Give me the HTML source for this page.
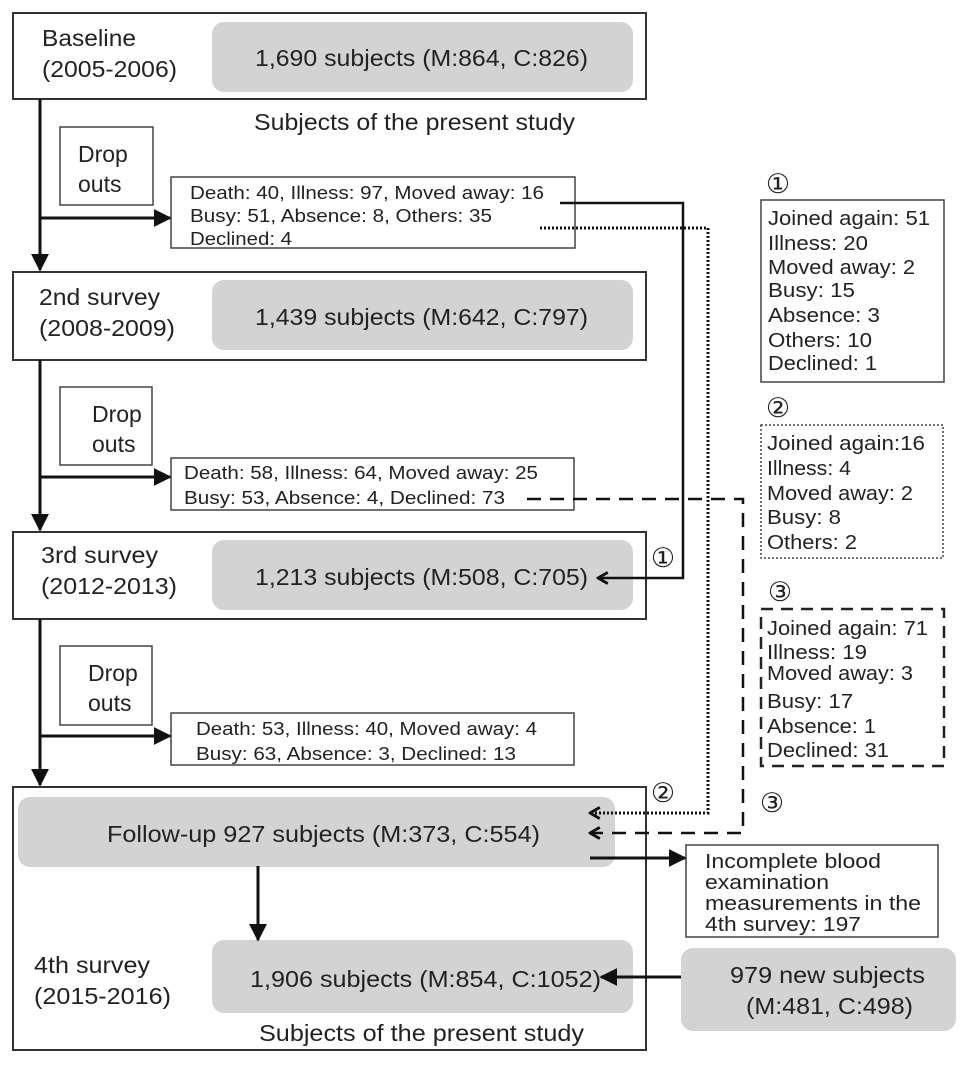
<!DOCTYPE html>
<html><head><meta charset="utf-8"><style>
html,body{margin:0;padding:0;background:#fff;}
svg{display:block;font-family:"Liberation Sans",sans-serif;fill:#222;}
</style></head><body>
<svg width="969" height="1066" viewBox="0 0 969 1066" xmlns="http://www.w3.org/2000/svg">
<defs>
<marker id="big" viewBox="0 0 10 10" refX="9" refY="5" markerWidth="18" markerHeight="18" orient="auto" markerUnits="userSpaceOnUse"><path d="M0,0 L10,5 L0,10 z" fill="#111"/></marker>
<marker id="op" viewBox="0 0 10 10" refX="9" refY="5" markerWidth="14" markerHeight="14" orient="auto" markerUnits="userSpaceOnUse"><path d="M2,1 L9,5 L2,9" fill="none" stroke="#111" stroke-width="2"/></marker>
</defs>
<g fill="none" stroke="#333" stroke-width="2">
<rect x="13" y="13" width="633" height="86"/>
<rect x="13" y="272" width="633" height="88"/>
<rect x="13" y="532" width="633" height="87"/>
<rect x="13" y="787" width="633" height="263"/>
</g>
<g fill="#d3d3d3">
<rect x="212" y="22" width="421" height="70" rx="12"/>
<rect x="212" y="280" width="421" height="70" rx="12"/>
<rect x="212" y="540" width="421" height="70" rx="12"/>
<rect x="18" y="797" width="597" height="70" rx="12"/>
<rect x="212" y="940" width="421" height="73" rx="12"/>
<rect x="681" y="948" width="275" height="83" rx="12"/>
</g>
<g fill="#fff" stroke="#444" stroke-width="1.5">
<rect x="60" y="127" width="93" height="78"/>
<rect x="60" y="387" width="92" height="78"/>
<rect x="60" y="646" width="92" height="79"/>
<rect x="171" y="177" width="404" height="71"/>
<rect x="171" y="458" width="403" height="52"/>
<rect x="171" y="713" width="403" height="52"/>
<rect x="686" y="845" width="252" height="92"/>
<rect x="761" y="200" width="183" height="182"/>
<rect x="761" y="425" width="182" height="133" stroke-dasharray="2,2"/>
<rect x="761" y="609" width="183" height="157" stroke="#222" stroke-width="2.5" stroke-dasharray="12,8"/>
</g>
<g stroke="#111" stroke-width="3" fill="none">
<line x1="40" y1="99" x2="40" y2="270" marker-end="url(#big)"/>
<line x1="40" y1="360" x2="40" y2="530" marker-end="url(#big)"/>
<line x1="40" y1="619" x2="40" y2="785" marker-end="url(#big)"/>
<line x1="40" y1="218" x2="170" y2="218" marker-end="url(#big)"/>
<line x1="40" y1="477" x2="170" y2="477" marker-end="url(#big)"/>
<line x1="40" y1="736" x2="170" y2="736" marker-end="url(#big)"/>
<line x1="258" y1="866" x2="258" y2="940" marker-end="url(#big)"/>
<line x1="590" y1="858" x2="685" y2="858" marker-end="url(#big)"/>
<line x1="681" y1="977" x2="601" y2="977" marker-end="url(#big)"/>
</g>
<polyline points="560,203 683,203 683,578 598,578" fill="none" stroke="#111" stroke-width="2.5" marker-end="url(#op)"/>
<polyline points="540,228 708,228 708,813 590,813" fill="none" stroke="#111" stroke-width="3" stroke-dasharray="2,2" marker-end="url(#op)"/>
<polyline points="527,499 743,499 743,833 590,833" fill="none" stroke="#111" stroke-width="2.5" stroke-dasharray="14,9" marker-end="url(#op)"/>
<g font-size="23" lengthAdjust="spacingAndGlyphs">
<text x="42" y="46" textLength="94" lengthAdjust="spacingAndGlyphs">Baseline</text><text x="42" y="77" textLength="135" lengthAdjust="spacingAndGlyphs">(2005-2006)</text>
<text x="39" y="305" textLength="121" lengthAdjust="spacingAndGlyphs">2nd survey</text><text x="39" y="336" textLength="136" lengthAdjust="spacingAndGlyphs">(2008-2009)</text>
<text x="41" y="563" textLength="117" lengthAdjust="spacingAndGlyphs">3rd survey</text><text x="41" y="594" textLength="136" lengthAdjust="spacingAndGlyphs">(2012-2013)</text>
<text x="34" y="973" textLength="116" lengthAdjust="spacingAndGlyphs">4th survey</text><text x="34" y="1004" textLength="137" lengthAdjust="spacingAndGlyphs">(2015-2016)</text>
<text x="255" y="66" textLength="333" lengthAdjust="spacingAndGlyphs">1,690 subjects (M:864, C:826)</text>
<text x="255" y="325" textLength="333" lengthAdjust="spacingAndGlyphs">1,439 subjects (M:642, C:797)</text>
<text x="255" y="585" textLength="333" lengthAdjust="spacingAndGlyphs">1,213 subjects (M:508, C:705)</text>
<text x="107" y="842" textLength="433" lengthAdjust="spacingAndGlyphs">Follow-up 927 subjects (M:373, C:554)</text>
<text x="250" y="987" textLength="351" lengthAdjust="spacingAndGlyphs">1,906 subjects (M:854, C:1052)</text>
<text x="254" y="130" textLength="321" lengthAdjust="spacingAndGlyphs">Subjects of the present study</text>
<text x="259" y="1041" textLength="325" lengthAdjust="spacingAndGlyphs">Subjects of the present study</text>
<text x="730" y="983" textLength="195" lengthAdjust="spacingAndGlyphs">979 new subjects</text>
<text x="746" y="1014" textLength="167" lengthAdjust="spacingAndGlyphs">(M:481, C:498)</text>
<text x="78" y="162">Drop</text><text x="78" y="192">outs</text>
<text x="92" y="422">Drop</text><text x="92" y="452">outs</text>
<text x="88" y="681">Drop</text><text x="88" y="711">outs</text>
</g>
<g font-size="18">
<text x="190" y="199" textLength="354" lengthAdjust="spacingAndGlyphs">Death: 40, Illness: 97, Moved away: 16</text>
<text x="190" y="222" textLength="302" lengthAdjust="spacingAndGlyphs">Busy: 51, Absence: 8, Others: 35</text>
<text x="190" y="245" textLength="102" lengthAdjust="spacingAndGlyphs">Declined: 4</text>
<text x="184" y="479" textLength="354" lengthAdjust="spacingAndGlyphs">Death: 58, Illness: 64, Moved away: 25</text>
<text x="184" y="504" textLength="321" lengthAdjust="spacingAndGlyphs">Busy: 53, Absence: 4, Declined: 73</text>
<text x="196" y="735" textLength="341" lengthAdjust="spacingAndGlyphs">Death: 53, Illness: 40, Moved away: 4</text>
<text x="196" y="760" textLength="320" lengthAdjust="spacingAndGlyphs">Busy: 63, Absence: 3, Declined: 13</text>
</g>
<g font-size="20">
<text x="705" y="868" textLength="176" lengthAdjust="spacingAndGlyphs">Incomplete blood</text>
<text x="705" y="889" textLength="124" lengthAdjust="spacingAndGlyphs">examination</text>
<text x="705" y="910" textLength="216" lengthAdjust="spacingAndGlyphs">measurements in the</text>
<text x="705" y="931" textLength="156" lengthAdjust="spacingAndGlyphs">4th survey: 197</text>
<text x="768" y="225" textLength="162" lengthAdjust="spacingAndGlyphs">Joined again: 51</text><text x="768" y="250" textLength="100" lengthAdjust="spacingAndGlyphs">Illness: 20</text><text x="768" y="274" textLength="147" lengthAdjust="spacingAndGlyphs">Moved away: 2</text><text x="768" y="297" textLength="87" lengthAdjust="spacingAndGlyphs">Busy: 15</text><text x="768" y="322" textLength="112" lengthAdjust="spacingAndGlyphs">Absence: 3</text><text x="768" y="347" textLength="104" lengthAdjust="spacingAndGlyphs">Others: 10</text><text x="768" y="370" textLength="109" lengthAdjust="spacingAndGlyphs">Declined: 1</text>
<text x="767" y="450" textLength="158" lengthAdjust="spacingAndGlyphs">Joined again:16</text><text x="767" y="475" textLength="84" lengthAdjust="spacingAndGlyphs">Illness: 4</text><text x="767" y="500" textLength="146" lengthAdjust="spacingAndGlyphs">Moved away: 2</text><text x="767" y="524" textLength="74" lengthAdjust="spacingAndGlyphs">Busy: 8</text><text x="767" y="549" textLength="90" lengthAdjust="spacingAndGlyphs">Others: 2</text>
<text x="767" y="635" textLength="161" lengthAdjust="spacingAndGlyphs">Joined again: 71</text><text x="767" y="659" textLength="100" lengthAdjust="spacingAndGlyphs">Illness: 19</text><text x="767" y="680" textLength="146" lengthAdjust="spacingAndGlyphs">Moved away: 3</text><text x="767" y="708" textLength="86" lengthAdjust="spacingAndGlyphs">Busy: 17</text><text x="767" y="733" textLength="109" lengthAdjust="spacingAndGlyphs">Absence: 1</text><text x="767" y="757" textLength="122" lengthAdjust="spacingAndGlyphs">Declined: 31</text>
</g>
<g font-size="27">
<text x="778" y="193" text-anchor="middle">①</text>
<text x="778" y="417" text-anchor="middle">②</text>
<text x="780" y="601" text-anchor="middle">③</text>
<text x="663" y="567" text-anchor="middle">①</text>
<text x="663" y="802" text-anchor="middle">②</text>
<text x="772" y="812" text-anchor="middle">③</text>
</g>
</svg>
</body></html>
